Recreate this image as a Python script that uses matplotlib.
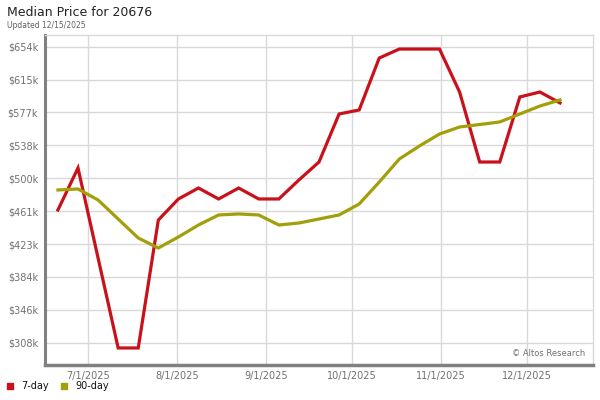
#!/usr/bin/env python3
# Median price chart (7-day vs 90-day rolling) for a single zip code.

import datetime as dt

import numpy as np
import matplotlib
matplotlib.use('Agg')
from matplotlib import pyplot as plt, dates as mdates


# weekly samples, values in $k
start_date = dt.datetime(2025, 6, 20, 12)
num_weeks = 26
price_7day = [462.7, 511.8, 406.6, 301.5, 301.5, 451.0, 475.6, 488.4, 475.6, 488.4,
              475.6, 475.6, 497.8, 518.8, 574.9, 579.6, 640.3, 650.8, 650.8, 650.8,
              600.6, 518.8, 518.8, 594.8, 600.6, 587.8]
price_90day = [486.1, 487.3, 474.4, 452.2, 430.0, 418.3, 431.2, 445.2, 456.9, 458.1,
               456.9, 445.2, 447.5, 452.2, 456.9, 469.7, 495.4, 522.3, 537.5, 551.5,
               559.7, 562.6, 565.6, 574.9, 584.2, 591.3]
ytick_vals = [307.6, 346.05, 384.5, 422.95, 461.4, 499.85, 538.3, 576.75, 615.2, 653.65]
ytick_labels = ['$308k', '$346k', '$384k', '$423k', '$461k', '$500k',
                '$538k', '$577k', '$615k', '$654k']
xtick_dates = [dt.date(2025, m, 1) for m in range(7, 13)]
series_names = ['7-day', '90-day']
series_colors = ['#c8111a', '#a39f0a']

dates = [start_date + dt.timedelta(weeks=i) for i in range(num_weeks)]

fig = plt.figure(figsize=(6, 4), dpi=100)
ax = fig.add_axes([45/600, 1 - 365/400, 548/600, 330/400])

for vals, color in zip([price_7day, price_90day], series_colors):
    ax.plot(dates, vals, color=color, lw=2.3, solid_joinstyle='miter', zorder=3)

ax.set_xlim(dt.date(2025, 6, 16), dt.date(2025, 12, 24))
ax.set_ylim(281.6, 667.2)
ax.set_yticks(ytick_vals)
ax.set_yticklabels(ytick_labels)
ax.set_xticks(xtick_dates)
ax.xaxis.set_major_formatter(mdates.DateFormatter('%-m/%-d/%Y'))

ax.grid(True, color='#d9d9d9', lw=1)
ax.set_axisbelow(True)
ax.tick_params(length=0, labelsize=7, labelcolor='#707070', pad=5)
ax.tick_params(axis='x', pad=4)

for side in ['top', 'right']:
    ax.spines[side].set_color('#d9d9d9')
    ax.spines[side].set_linewidth(1)
ax.spines['left'].set_color('#808080')
ax.spines['left'].set_linewidth(2.2)
ax.spines['bottom'].set_color('#808080')
ax.spines['bottom'].set_linewidth(2.5)

# titles
fig.text(7/600, 1 - 12/400, 'Median Price for 20676', fontsize=9, color='#222222', va='center')
fig.text(7/600, 1 - 25/400, 'Updated 12/15/2025', fontsize=5.5, color='#606060', va='center')
ax.text(0.985, 0.035, '© Altos Research', transform=ax.transAxes, fontsize=6,
        color='#707070', ha='right', va='center')

# legend
x0 = 7
for name, color in zip(series_names, series_colors):
    fig.patches.append(plt.Rectangle((x0/600, 1 - 389/400), 6/600, 6/400, color=color,
                                     transform=fig.transFigure, figure=fig))
    t = fig.text((x0 + 14)/600, 1 - 386/400, name, fontsize=7, color='#111111', va='center')
    x0 += 54

fig.savefig('out.png', dpi=100)
